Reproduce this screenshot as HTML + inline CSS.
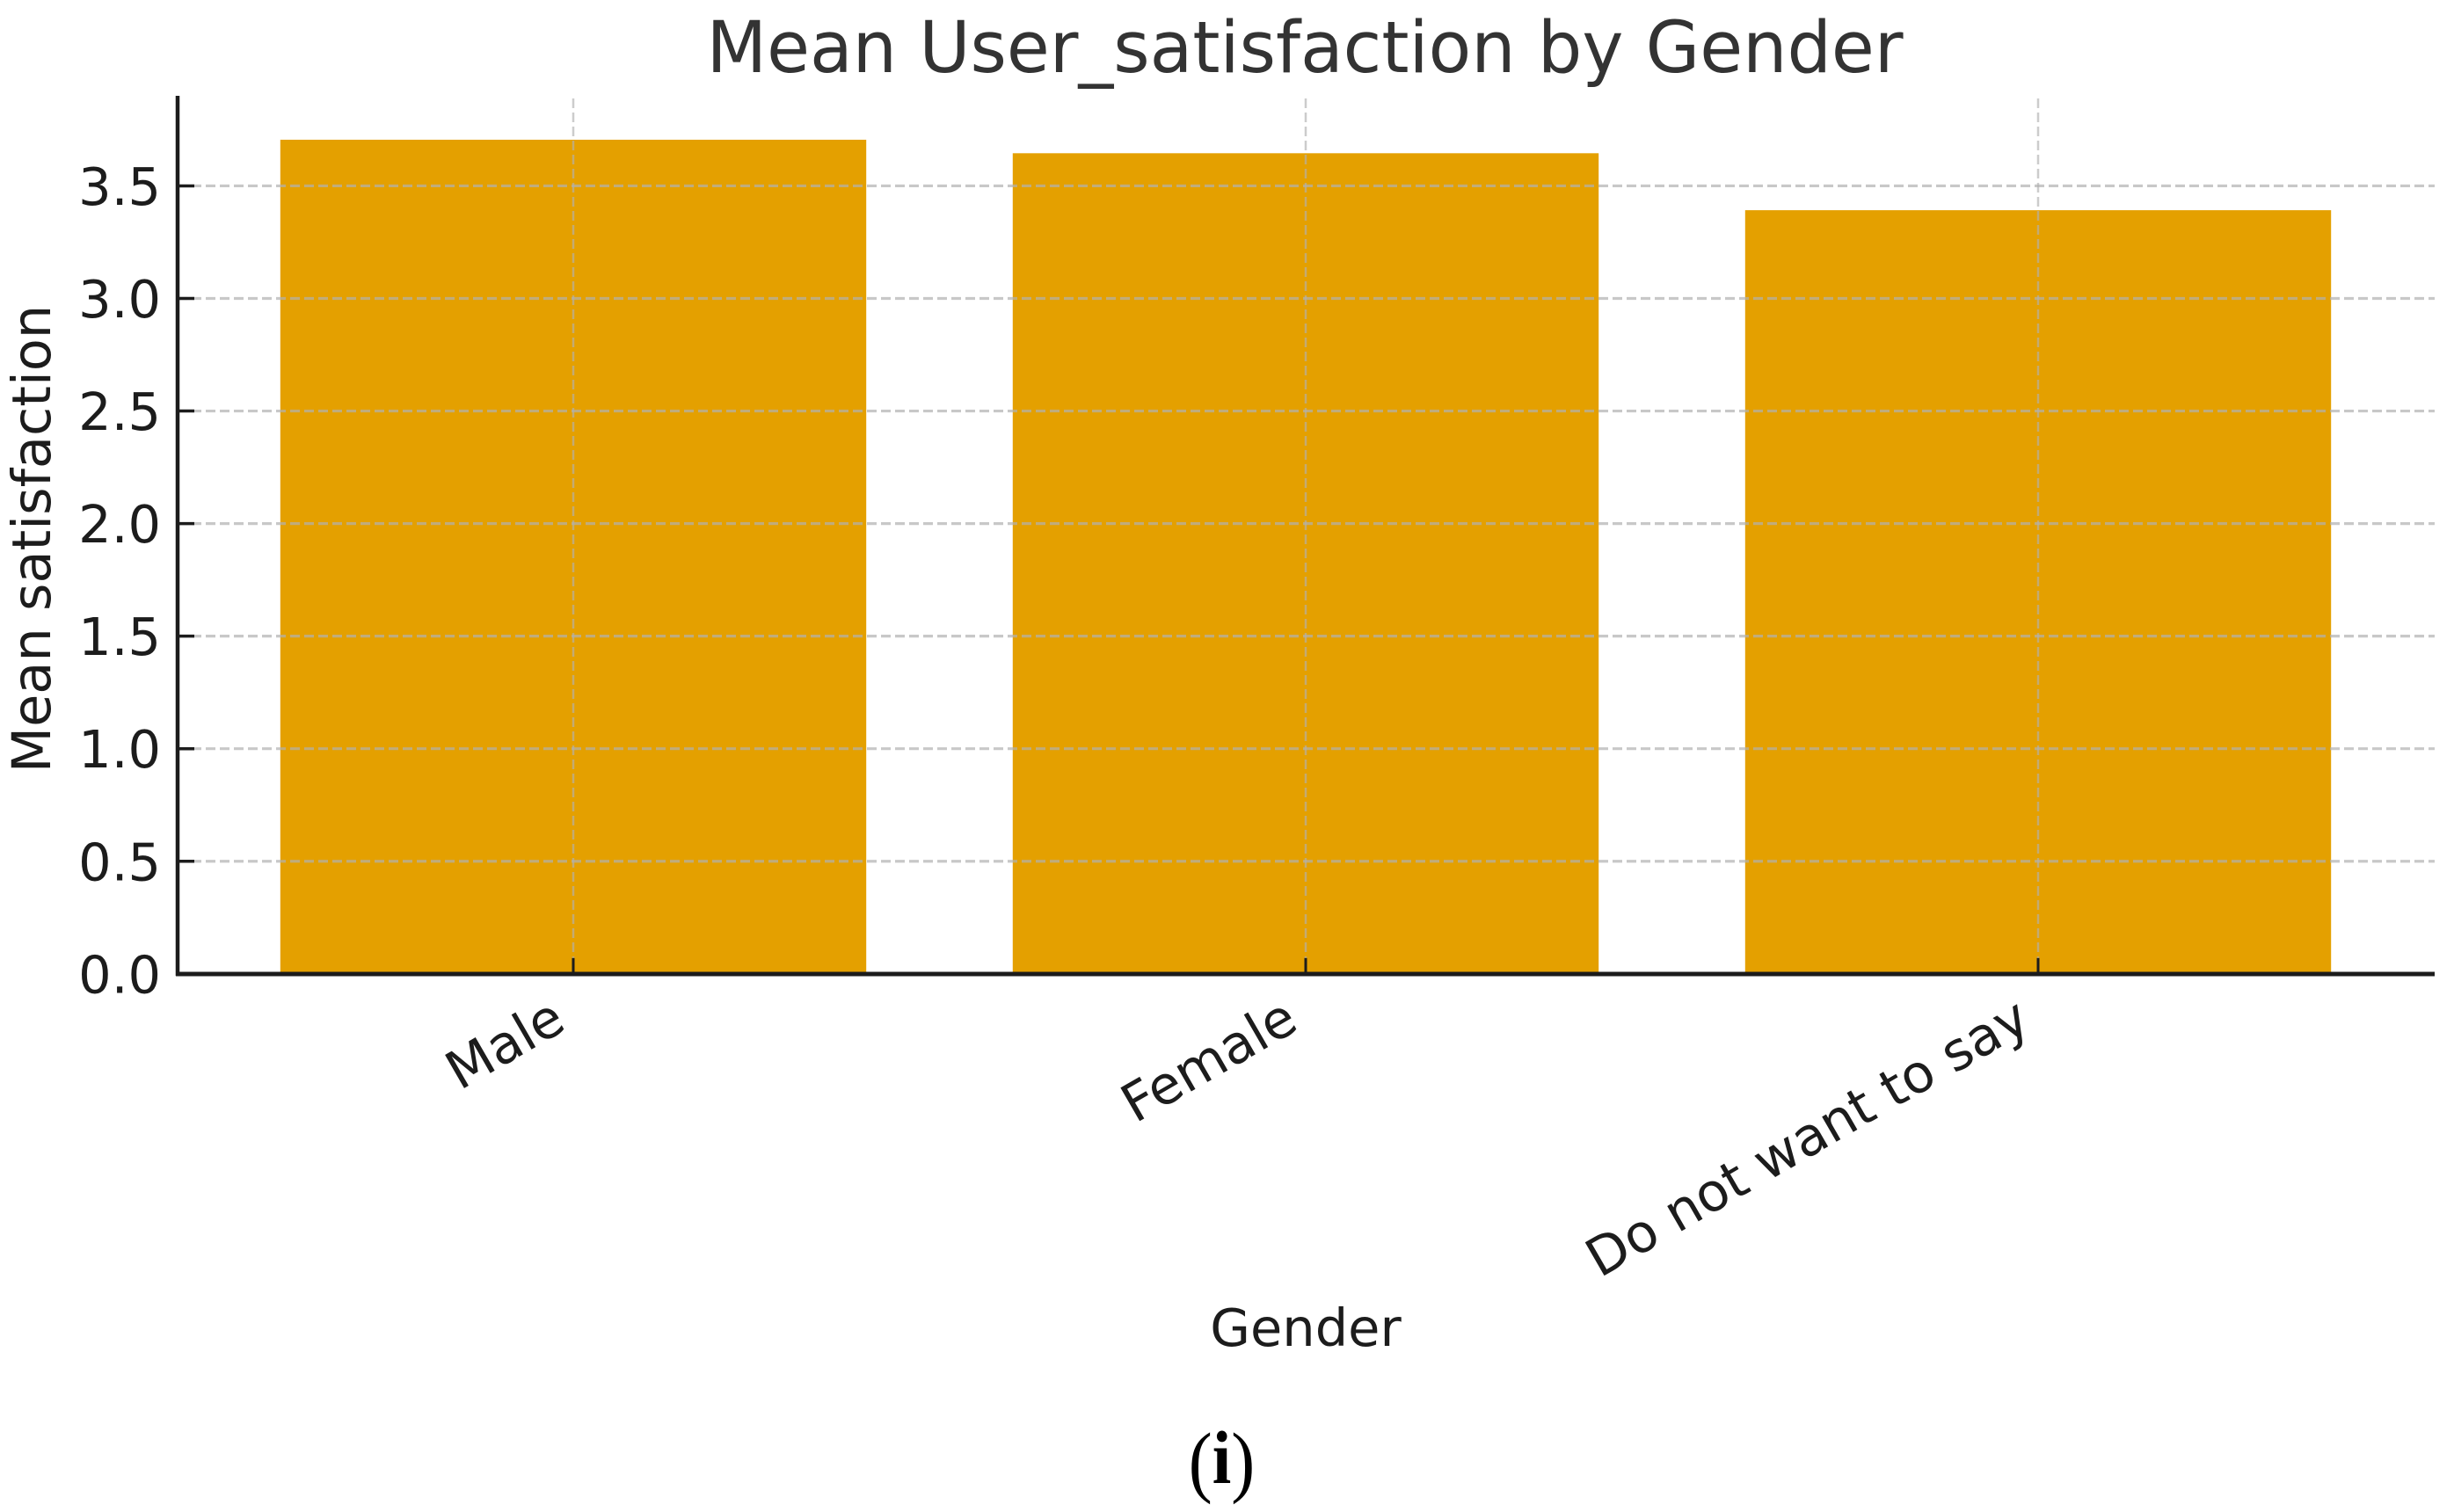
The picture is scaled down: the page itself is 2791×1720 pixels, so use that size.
<!DOCTYPE html>
<html lang="en">
<head>
<meta charset="utf-8">
<title>Mean User_satisfaction by Gender</title>
<style>
  html, body { margin: 0; padding: 0; background: #ffffff; }
  svg { display: block; }
  text { font-family: "DejaVu Sans", "Liberation Sans", sans-serif; }
</style>
</head>
<body>
<svg id="chart" xmlns="http://www.w3.org/2000/svg" width="2791" height="1720" viewBox="0 0 2791 1720">
  <rect x="0" y="0" width="2791" height="1720" fill="#ffffff"/>
  <g id="bars"></g>
  <g id="grid"></g>
  <g id="ticks"></g>
  <line x1="202" y1="109" x2="202" y2="1110" stroke="#1c1c1c" stroke-width="4.5"/>
  <line x1="200" y1="1108" x2="2769" y2="1108" stroke="#1c1c1c" stroke-width="5"/>
  <g id="labels"></g>
  <text x="1484" y="82" text-anchor="middle" font-size="81" fill="#333333" textLength="1361" lengthAdjust="spacingAndGlyphs">Mean User_satisfaction by Gender</text>
  <text transform="translate(57 613) rotate(-90)" text-anchor="middle" font-size="60.5" fill="#1c1c1c">Mean satisfaction</text>
  <text x="1485" y="1531" text-anchor="middle" font-size="59" fill="#1c1c1c">Gender</text>
  <text transform="translate(1389.5 1687) scale(0.9 1)" text-anchor="middle" fill="#000000" style="font-family:'Liberation Serif',serif"><tspan font-size="90" dy="5">(</tspan><tspan font-size="86" font-weight="bold" dy="-5">i</tspan><tspan font-size="90" dy="5">)</tspan></text>
</svg>
<script>
const categories = ["Male", "Female", "Do not want to say"];
const meanSatisfaction = [3.705, 3.645, 3.392];
const yTicks = [0, 0.5, 1, 1.5, 2, 2.5, 3, 3.5];
const yTickLabels = ["0.0", "0.5", "1.0", "1.5", "2.0", "2.5", "3.0", "3.5"];

const NS = "http://www.w3.org/2000/svg";
const barFraction = 0.8;
const plotLeft = 202;
const plotRight = 2769;
const plotTop = 109;
const plotBottom = 1107.8;

function xScale(i) { return 652 + i * 833; }
function yScale(v) { return plotBottom - v * 256.1; }
function make(tag, attrs) {
  const el = document.createElementNS(NS, tag);
  for (const k in attrs) el.setAttribute(k, attrs[k]);
  return el;
}

const barsGroup = document.getElementById("bars");
const gridGroup = document.getElementById("grid");
const ticksGroup = document.getElementById("ticks");
const labelsGroup = document.getElementById("labels");
const bandWidth = xScale(1) - xScale(0);

categories.forEach(function (name, i) {
  const w = bandWidth * barFraction;
  const top = yScale(meanSatisfaction[i]);
  const bar = make("rect", { x: xScale(i) - w / 2, y: top, width: w, height: plotBottom - top, fill: "#e4a000" });
  
  
  barsGroup.appendChild(bar);

  const grid = make("line", { x1: xScale(i), x2: xScale(i), y1: plotTop + 3, y2: plotBottom, stroke: "#b0b0b0", "stroke-opacity": 0.65, "stroke-width": 2.5, "stroke-dasharray": "11 5" });
  
  
  gridGroup.appendChild(grid);

  const tick = make("line", { x1: xScale(i), x2: xScale(i), y1: plotBottom - 18, y2: plotBottom, stroke: "#1c1c1c", "stroke-width": 3 });
  
  
  ticksGroup.appendChild(tick);

  const label = make("text", { transform: "translate(" + (xScale(i) - 6) + " " + (plotBottom + 62) + ") rotate(-30)", "text-anchor": "end", "font-size": 60, fill: "#1c1c1c" });
  label.textContent = name;
  
  
  labelsGroup.appendChild(label);
});

yTicks.forEach(function (v, i) {
  const grid = make("line", { x1: plotLeft, x2: plotRight, y1: yScale(v), y2: yScale(v), stroke: "#b0b0b0", "stroke-opacity": 0.7, "stroke-width": 3.2, "stroke-dasharray": "11 5" });
  
  
  gridGroup.appendChild(grid);

  const tick = make("line", { x1: plotLeft, x2: plotLeft + 19, y1: yScale(v), y2: yScale(v), stroke: "#1c1c1c", "stroke-width": 3.5 });
  
  
  ticksGroup.appendChild(tick);

  const label = make("text", { x: 183, y: yScale(v) + 21.5, "text-anchor": "end", "font-size": 59, fill: "#1c1c1c" });
  label.textContent = yTickLabels[i];
  
  
  labelsGroup.appendChild(label);
});
</script>
</body>
</html>
